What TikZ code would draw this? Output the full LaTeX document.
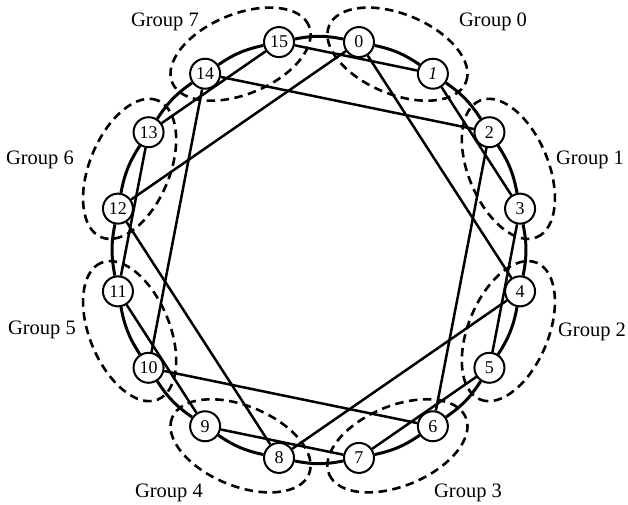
\documentclass[tikz,border=0pt]{standalone}
\usepackage{fontspec}
\setmainfont{Liberation Serif}

\begin{document}
\begin{tikzpicture}[
    x=1pt, y=1pt,
    vtx/.style={draw, circle, line width=2pt, fill=white, minimum size=30pt,
                inner sep=0pt, font=\fontsize{18}{18}\selectfont},
    ring/.style={line width=3pt},
    chord/.style={line width=2.5pt},
    grp/.style={line width=2.6pt, dash pattern=on 8.5pt off 5.5pt},
    lbl/.style={font=\fontsize{20.5}{24}\selectfont}
]
\useasboundingbox (-319,-255) rectangle (309,250);
% dashed groups (pairs of neighbours)
\foreach \g in {0,...,7}
   \draw[grp, shift={({67.5-45*\g}:205 and 212)}, rotate={-22.5-45*\g}] (0,0) ellipse (74 and 40);
% nodes round the ring
\foreach \i in {0,...,15}
   \node[vtx] (n\i) at ({78.75-22.5*\i}:205 and 212) {\ifnum\i=1 \textit{1}\else\i\fi};
% ring links
\foreach \i in {0,...,15}{
   \pgfmathtruncatemacro\j{mod(\i+1,16)}
   \draw[ring] (n\i) to[bend left=11] (n\j);
}
% chords: even nodes skip 4, odd nodes skip 2
\foreach \a/\b in {0/4, 4/8, 8/12, 12/0, 2/6, 6/10, 10/14, 14/2}
   \draw[chord] (n\a) -- (n\b);
\foreach \a/\b in {1/3, 3/5, 5/7, 7/9, 9/11, 11/13, 13/15, 15/1}
   \draw[chord] (n\a) -- (n\b);
% group labels
\node[lbl] (g0) at (174,228)  {Group 0};
\node[lbl] (g1) at (271,90)   {Group 1};
\node[lbl] (g2) at (273,-82)  {Group 2};
\node[lbl] (g3) at (149,-243) {Group 3};
\node[lbl] (g4) at (-150,-243) {Group 4};
\node[lbl] (g5) at (-277,-80) {Group 5};
\node[lbl] (g6) at (-279,90)  {Group 6};
\node[lbl] (g7) at (-154,228) {Group 7};
\end{tikzpicture}
\end{document}
